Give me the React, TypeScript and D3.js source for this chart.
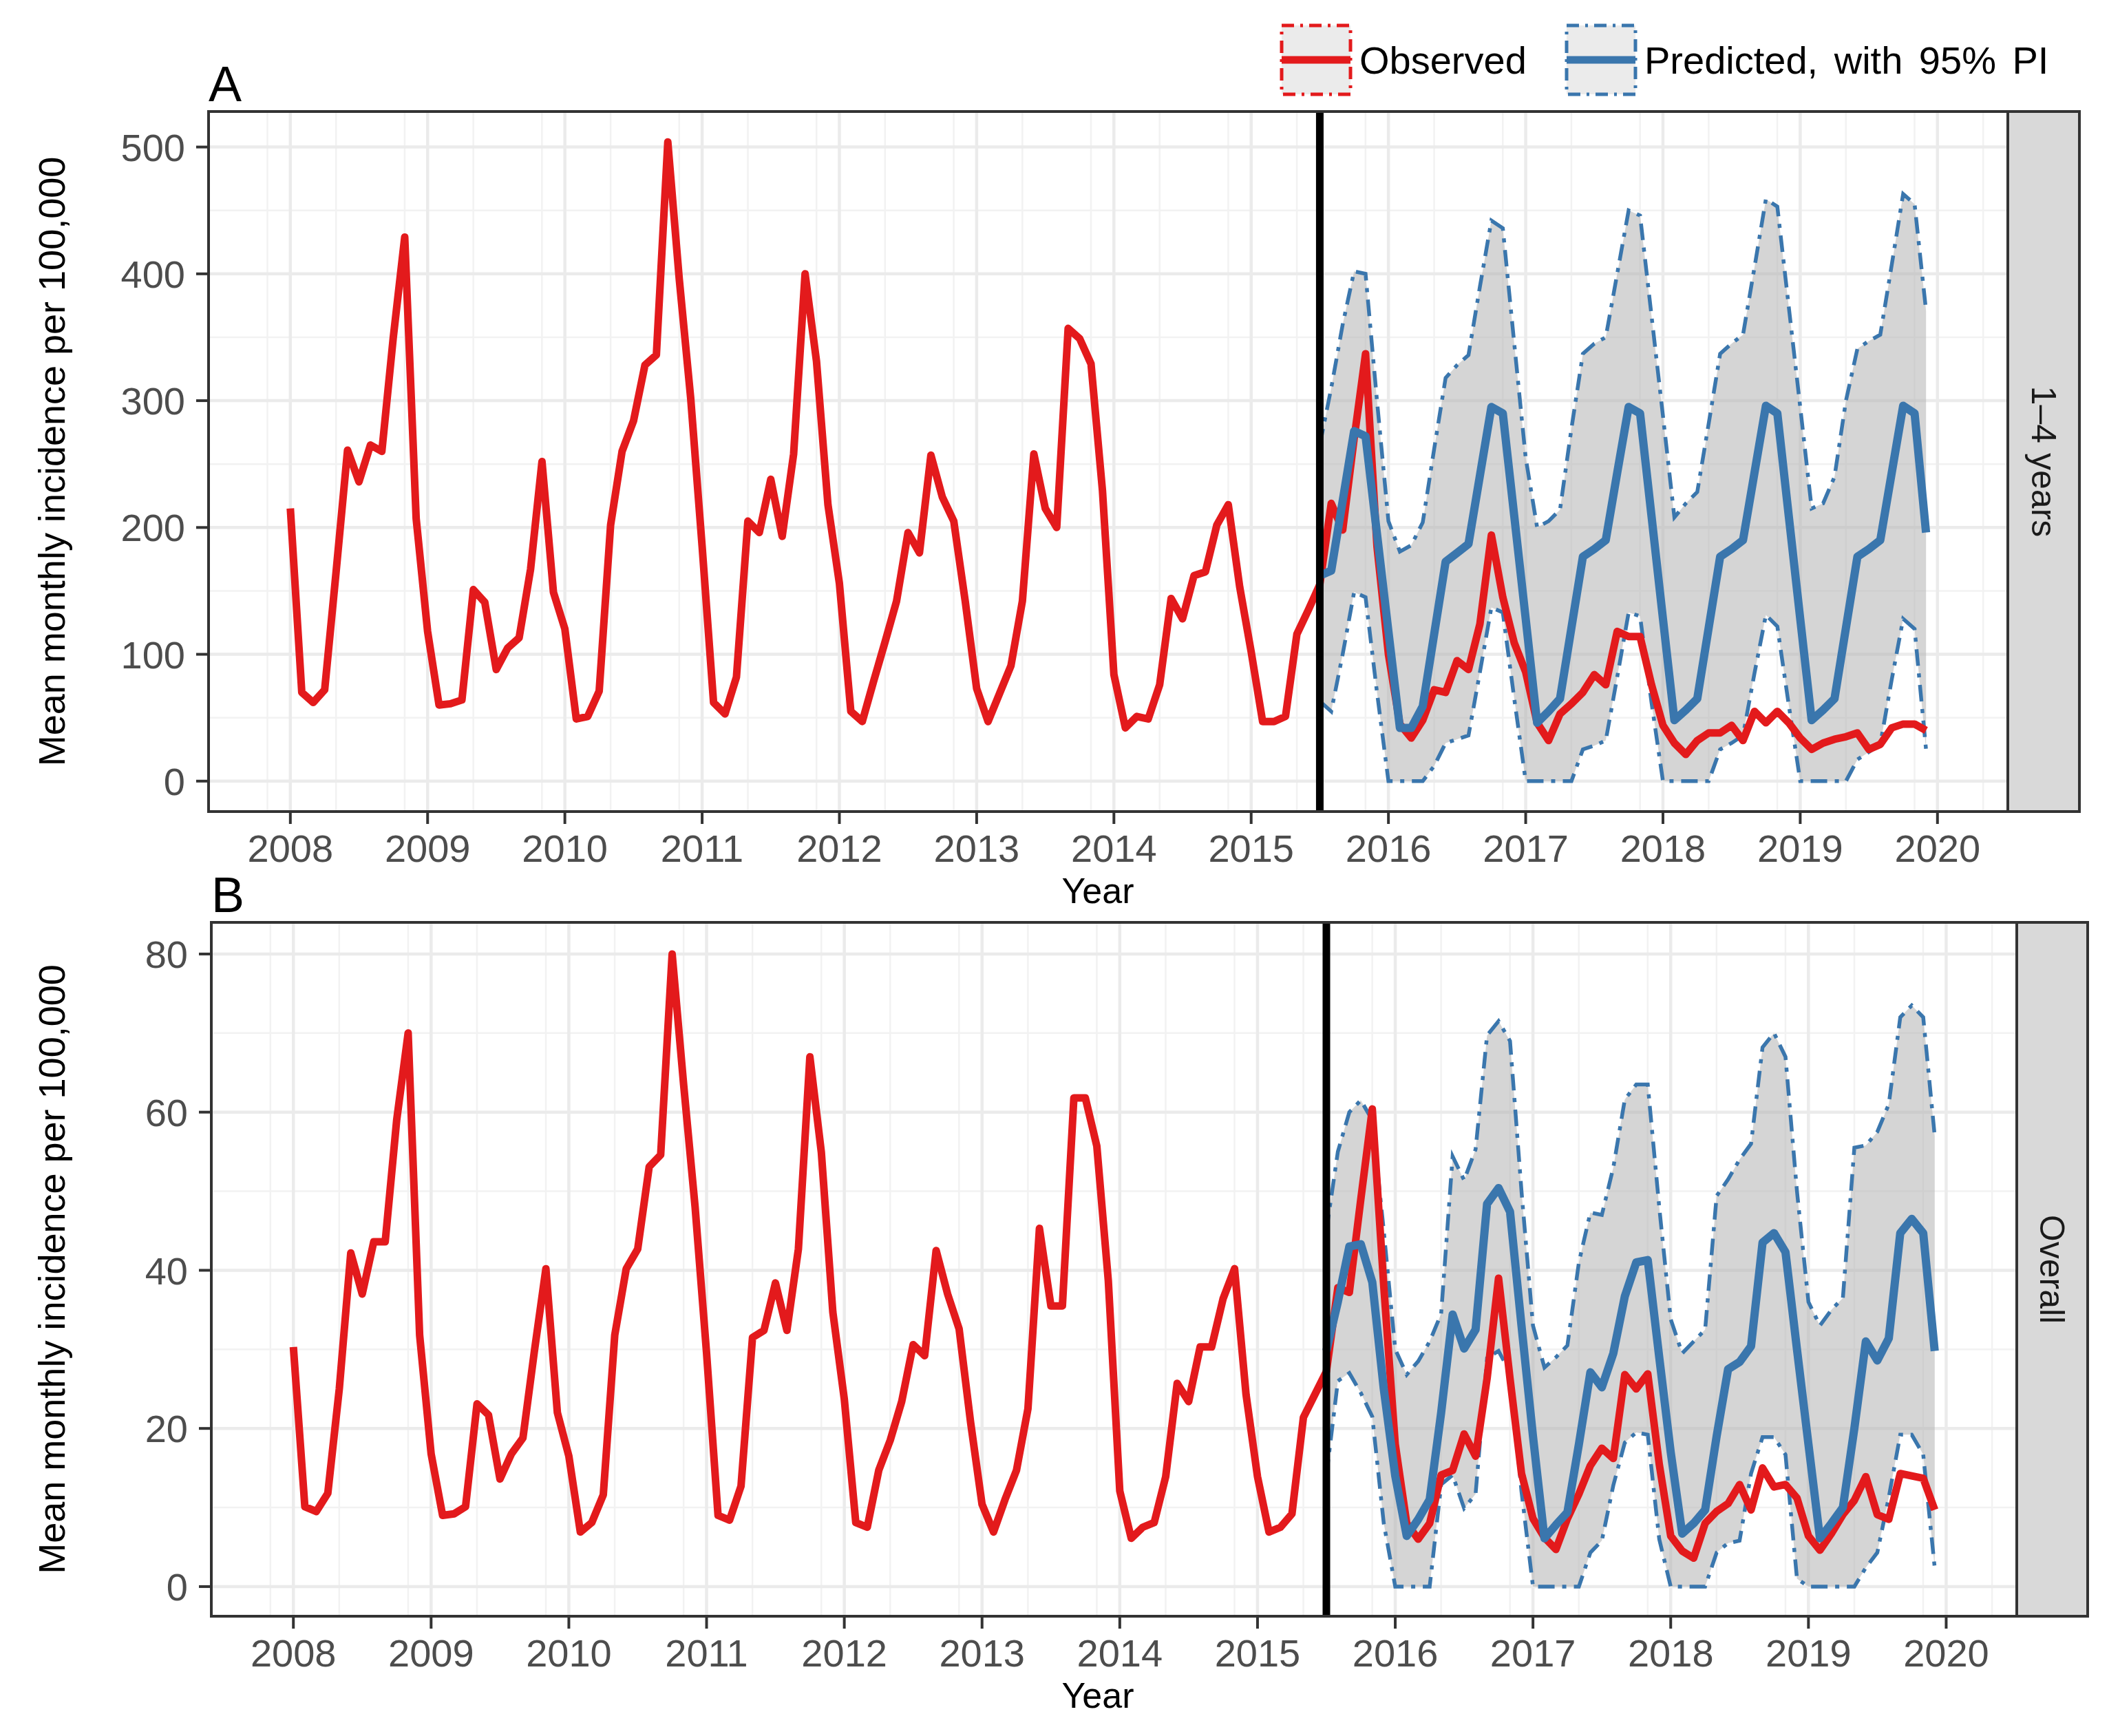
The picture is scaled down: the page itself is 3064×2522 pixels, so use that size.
import React from "react";
import * as d3 from "d3";

// ---------------- data ----------------
const startYear = 2008;
const predStartIndex = 90; // July 2015
const interventionYear = 2015.5;
const xTickYears = [2008, 2009, 2010, 2011, 2012, 2013, 2014, 2015, 2016, 2017, 2018, 2019, 2020];
const xMinorYears = [2007.833, 2008.333, 2008.833, 2009.333, 2009.833, 2010.333, 2010.833, 2011.333, 2011.833, 2012.333, 2012.833, 2013.333, 2013.833, 2014.333, 2014.833, 2015.333, 2015.833, 2016.333, 2016.833, 2017.333, 2017.833, 2018.333, 2018.833, 2019.333, 2019.833, 2020.333];
const yTicksA = [0, 100, 200, 300, 400, 500];
const yMinorA = [50, 150, 250, 350, 450];
const yTicksB = [0, 20, 40, 60, 80];
const yMinorB = [10, 30, 50, 70];

// Panel A: 1-4 years, monthly Jan 2008 - Dec 2019
const obsA = [
  215, 70, 62, 72, 165, 261, 236, 265, 260, 350, 429, 207,
  118, 60, 61, 64, 151, 141, 88, 105, 113, 167, 252, 149,
  120, 49, 51, 71, 202, 260, 284, 328, 336, 504, 396, 302,
  185, 62, 53, 82, 205, 196, 238, 193, 258, 400, 331, 218,
  156, 55, 47, 79, 110, 142, 196, 180, 257, 224, 205, 142,
  73, 47, 69, 91, 142, 258, 215, 200, 357, 349, 329, 229,
  84, 42, 51, 49, 76, 144, 128, 162, 165, 202, 218, 153,
  102, 47, 47, 51, 116, 135, 155, 219, 198, 270, 337, 185,
  100, 45, 34, 48, 72, 70, 95, 88, 124, 194, 145, 109,
  86, 46, 32, 53, 61, 70, 84, 76, 118, 114, 114, 76,
  44, 30, 21, 32, 38, 38, 44, 32, 55, 46, 55, 46,
  34, 25, 30, 33, 35, 38, 25, 29, 42, 45, 45, 40,
];
// Predicted Jul 2015 - Dec 2019
const predA = [
  162, 166, 221, 276, 272, 195,
  118, 42, 42, 59, 116, 173, 180, 187, 241, 295, 290, 209,
  128, 46, 55, 65, 121, 177, 183, 190, 243, 295, 290, 209,
  128, 48, 56, 65, 121, 177, 183, 190, 243, 296, 290, 209,
  128, 48, 56, 65, 121, 177, 183, 190, 243, 296, 290, 196,
];
const lowA = [
  63, 55, 100, 149, 145, 70,
  0, 0, 0, 0, 12, 30, 33, 36, 86, 137, 133, 65,
  0, 0, 0, 0, 0, 25, 28, 32, 82, 133, 130, 62,
  0, 0, 0, 0, 0, 25, 30, 36, 85, 131, 122, 60,
  0, 0, 0, 0, 0, 17, 23, 29, 80, 128, 120, 25,
];
const upA = [
  265, 310, 360, 402, 400, 300,
  205, 181, 186, 204, 262, 318, 328, 336, 390, 442, 436, 345,
  255, 200, 205, 214, 278, 337, 345, 350, 400, 450, 446, 367,
  288, 208, 219, 228, 282, 337, 345, 352, 405, 459, 453, 374,
  295, 215, 219, 240, 300, 341, 347, 352, 407, 463, 455, 371,
];

// Panel B: Overall
const obsB = [
  30.3, 10.1, 9.5, 11.8, 25, 42.2, 37, 43.6, 43.6, 59, 70, 31.8,
  16.8, 9, 9.2, 10.1, 23.1, 21.7, 13.6, 16.8, 18.8, 29.8, 40.2, 22,
  16.5, 6.9, 8.1, 11.6, 31.8, 40.2, 42.7, 53.1, 54.6, 80, 63.5, 48,
  29.5, 9, 8.4, 12.7, 31.5, 32.4, 38.4, 32.4, 42.7, 67, 54.9, 34.7,
  23.7, 8.1, 7.5, 14.7, 18.5, 23.4, 30.6, 29.2, 42.5, 37, 32.6, 20.8,
  10.4, 6.9, 11, 14.7, 22.5, 45.3, 35.5, 35.5, 61.8, 61.8, 55.7, 38.7,
  12.1, 6.1, 7.5, 8.1, 13.9, 25.7, 23.4, 30.3, 30.3, 36.4, 40.2, 24.3,
  13.9, 6.9, 7.5, 9.2, 21.4, 24.3, 27.2, 37.8, 37.2, 49, 60.4, 38,
  18, 8, 6, 8, 14.1, 14.7, 19.3, 16.5, 26.3, 39, 26.3, 14.3,
  8.6, 6.2, 4.7, 8.6, 11.7, 15.3, 17.5, 16.2, 26.8, 25, 26.9, 15.5,
  6.4, 4.5, 3.6, 8, 9.5, 10.5, 12.9, 9.7, 15, 12.6, 12.9, 11.2,
  6.4, 4.6, 6.7, 9.1, 10.9, 13.9, 9.1, 8.5, 14.3, 14, 13.7, 9.7,
];
const predB = [
  29.8, 36, 43, 43.3, 38.5, 25,
  14, 6.4, 8.5, 11, 22, 34.4, 30.1, 32.5, 48.4, 50.4, 47.4, 33,
  19, 6.1, 7.8, 9.4, 18, 27.1, 25.2, 29.5, 36.7, 41, 41.3, 29,
  17, 6.7, 8, 9.7, 19, 27.5, 28.4, 30.4, 43.5, 44.7, 42.3, 30,
  18, 6.1, 8, 10, 20, 31, 28.6, 31.4, 44.7, 46.5, 44.7, 29.8,
];
const lowB = [
  14, 26, 27, 24.5, 21.5, 8,
  0, 0, 0, 0, 12.9, 14.1, 9.9, 11.7, 28.9, 29.8, 27.1, 12,
  0, 0, 0, 0, 0, 4.3, 5.8, 12.8, 18.2, 19.5, 19.2, 6,
  0, 0, 0, 0, 4.3, 5.5, 5.8, 14.3, 18.9, 18.9, 16.7, 1,
  0, 0, 0, 0, 0, 2.4, 4.3, 11.3, 19.2, 19.2, 16.7, 2.4,
];
const upB = [
  45, 55, 60, 61.5, 59, 45,
  30, 26.8, 28.5, 31, 34.5, 54.4, 51.4, 55.3, 69.7, 71.5, 69, 50,
  33, 27.7, 29, 30.5, 41, 47.3, 47, 53, 61.6, 63.5, 63.5, 48,
  33.8, 29.5, 31, 32.5, 49.4, 51.5, 54, 56, 68.2, 70, 67, 50,
  36, 33, 35, 36.5, 55.5, 55.8, 57.5, 61, 72, 73.5, 72, 57,
];

// ---------------- styling ----------------
const RED = "#e31a1c";
const BLUE = "#3a76ad";
const FONT = "'Liberation Sans', Arial, Helvetica, sans-serif";
const TICK_COLOR = "#4d4d4d";
const FRAME = "#333333";

type Layout = { left: number; right: number; top: number; bottom: number; stripRight: number };

const layoutA: Layout = { left: 303, right: 2917, top: 162, bottom: 1179, stripRight: 3021 };
const layoutB: Layout = { left: 307, right: 2930, top: 1340, bottom: 2348, stripRight: 3033 };

const monthX = (i: number) => startYear + i / 12;

function Panel(props: {
  L: Layout;
  yDomain: [number, number];
  yTicks: number[];
  yMinor: number[];
  obs: number[];
  pred: number[];
  low: number[];
  up: number[];
  strip: string;
  tag: string;
}) {
  const { L, yDomain, yTicks, yMinor, obs, pred, low, up, strip, tag } = props;
  const n = obs.length;
  const xMin = monthX(0);
  const xMax = monthX(n - 1);
  const pad = (xMax - xMin) * 0.05;
  const x = d3.scaleLinear().domain([xMin - pad, xMax + pad]).range([L.left, L.right]);
  const y = d3.scaleLinear().domain(yDomain).range([L.bottom, L.top]);

  const obsPts = obs.map((v, i) => [monthX(i), v] as [number, number]);
  const predPts = pred.map((v, i) => ({ t: monthX(predStartIndex + i), m: v, lo: low[i], hi: up[i] }));

  const line = d3
    .line<[number, number]>()
    .x((d) => x(d[0]))
    .y((d) => y(d[1]));
  const lineP = (acc: (d: any) => number) =>
    d3
      .line<any>()
      .x((d) => x(d.t))
      .y((d) => y(acc(d)))(predPts) as string;
  const area = d3
    .area<any>()
    .x((d) => x(d.t))
    .y0((d) => y(d.lo))
    .y1((d) => y(d.hi))(predPts) as string;

  const clipId = "clip" + tag;
  const stripCx = (L.right + L.stripRight) / 2;
  const cy = (L.top + L.bottom) / 2;

  return (
    <g>
      <defs>
        <clipPath id={clipId}>
          <rect x={L.left} y={L.top} width={L.right - L.left} height={L.bottom - L.top} />
        </clipPath>
      </defs>
      <rect x={L.left} y={L.top} width={L.right - L.left} height={L.bottom - L.top} fill="#ffffff" />
      <g clipPath={`url(#${clipId})`}>
        {yMinor.map((v) => (
          <line key={"ym" + v} x1={L.left} x2={L.right} y1={y(v)} y2={y(v)} stroke="#f2f2f2" strokeWidth={2.5} />
        ))}
        {xMinorYears.map((v) => (
          <line key={"xm" + v} y1={L.top} y2={L.bottom} x1={x(v)} x2={x(v)} stroke="#f2f2f2" strokeWidth={2.5} />
        ))}
        {yTicks.map((v) => (
          <line key={"yM" + v} x1={L.left} x2={L.right} y1={y(v)} y2={y(v)} stroke="#ebebeb" strokeWidth={4.5} />
        ))}
        {xTickYears.map((v) => (
          <line key={"xM" + v} y1={L.top} y2={L.bottom} x1={x(v)} x2={x(v)} stroke="#ebebeb" strokeWidth={4.5} />
        ))}
        <path d={area} fill="#b3b3b3" fillOpacity={0.55} />
        <path d={lineP((d) => d.hi)} fill="none" stroke={BLUE} strokeWidth={5.5} strokeDasharray="24 11 6 11" />
        <path d={lineP((d) => d.lo)} fill="none" stroke={BLUE} strokeWidth={5.5} strokeDasharray="24 11 6 11" />
        <path d={line(obsPts) as string} fill="none" stroke={RED} strokeWidth={11} strokeLinejoin="round" />
        <path d={lineP((d) => d.m)} fill="none" stroke={BLUE} strokeWidth={12} strokeLinejoin="round" />
        <line x1={x(interventionYear)} x2={x(interventionYear)} y1={L.top} y2={L.bottom} stroke="#000" strokeWidth={11} />
      </g>
      <rect x={L.left} y={L.top} width={L.right - L.left} height={L.bottom - L.top} fill="none" stroke={FRAME} strokeWidth={4} />
      <rect x={L.right} y={L.top} width={L.stripRight - L.right} height={L.bottom - L.top} fill="#d9d9d9" stroke={FRAME} strokeWidth={4} />
      <text
        transform={`translate(${stripCx},${cy}) rotate(90)`}
        textAnchor="middle"
        dy="0.35em"
        fontFamily={FONT}
        fontSize={50}
        fill="#1a1a1a"
      >
        {strip}
      </text>
      {yTicks.map((v) => (
        <g key={"yt" + v}>
          <line x1={L.left - 18} x2={L.left} y1={y(v)} y2={y(v)} stroke={FRAME} strokeWidth={4} />
          <text x={L.left - 34} y={y(v)} dy="0.36em" textAnchor="end" fontFamily={FONT} fontSize={56} fill={TICK_COLOR}>
            {v}
          </text>
        </g>
      ))}
      {xTickYears.map((v) => (
        <g key={"xt" + v}>
          <line x1={x(v)} x2={x(v)} y1={L.bottom} y2={L.bottom + 18} stroke={FRAME} strokeWidth={4} />
          <text x={x(v)} y={L.bottom + 73} textAnchor="middle" fontFamily={FONT} fontSize={56} fill={TICK_COLOR}>
            {v}
          </text>
        </g>
      ))}
      <text x={1595} y={L.bottom + 133} textAnchor="middle" fontFamily={FONT} fontSize={52} fill="#000">
        Year
      </text>
      <text
        transform={`translate(75,${cy}) rotate(-90)`}
        textAnchor="middle"
        dy="0.35em"
        fontFamily={FONT}
        fontSize={54}
        fill="#000"
      >
        Mean monthly incidence per 100,000
      </text>
      <text x={L.left} y={L.top - 15} fontFamily={FONT} fontSize={72} fill="#000">
        {tag}
      </text>
    </g>
  );
}

function LegendKey(props: { x: number; color: string; label: string; wordSpacing?: number }) {
  const { x, color, label, wordSpacing } = props;
  const y0 = 37;
  const s = 100;
  return (
    <g>
      <rect x={x} y={y0} width={s} height={s} fill="#ebebeb" stroke={color} strokeWidth={5} strokeDasharray="18 9 4 9" />
      <line x1={x} x2={x + s} y1={y0 + s / 2} y2={y0 + s / 2} stroke={color} strokeWidth={11} />
      <text
        x={x + s + 13}
        y={y0 + s / 2}
        dy="0.36em"
        fontFamily={FONT}
        fontSize={56}
        fill="#000"
        style={{ wordSpacing: wordSpacing ? `${wordSpacing}px` : undefined }}
      >
        {label}
      </text>
    </g>
  );
}

export default function App() {
  return (
    <svg
      width={3064}
      height={2522}
      viewBox="0 0 3064 2522"
      style={{ position: "absolute", left: 0, top: 0, background: "#fff" }}
    >
      <rect x={0} y={0} width={3064} height={2522} fill="#ffffff" />
      <LegendKey x={1862} color={RED} label="Observed" />
      <LegendKey x={2276} color={BLUE} label="Predicted, with 95% PI" wordSpacing={8} />
      <Panel L={layoutA} yDomain={[-24, 528]} yTicks={yTicksA} yMinor={yMinorA} obs={obsA} pred={predA} low={lowA} up={upA} strip="1–4 years" tag="A" />
      <Panel L={layoutB} yDomain={[-3.75, 84]} yTicks={yTicksB} yMinor={yMinorB} obs={obsB} pred={predB} low={lowB} up={upB} strip="Overall" tag="B" />
    </svg>
  );
}
